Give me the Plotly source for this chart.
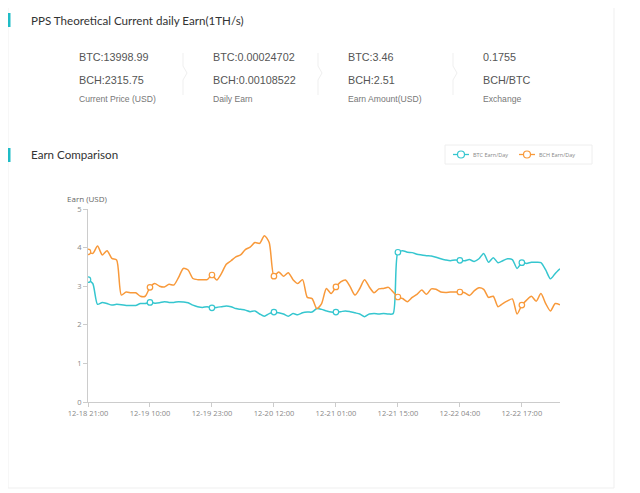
import plotly.graph_objects as go
import pandas as pd

# ---------------- data ----------------
hour_offsets = list(range(0, 60)) + list(range(61, 101))
categories = [(pd.Timestamp("2017-12-18 21:00") + pd.Timedelta(hours=h)).strftime("%m-%d %H:%M")
              for h in hour_offsets]

tick_labels = ["12-18 21:00", "12-19 10:00", "12-19 23:00", "12-20 12:00",
               "12-21 01:00", "12-21 15:00", "12-22 04:00", "12-22 17:00"]

btc_earn = [3.17, 3.07, 2.53, 2.58, 2.55, 2.51, 2.53, 2.52, 2.50, 2.50,
            2.50, 2.55, 2.55, 2.58, 2.56, 2.57, 2.60, 2.58, 2.58, 2.60,
            2.59, 2.57, 2.51, 2.47, 2.45, 2.47, 2.44, 2.45, 2.47, 2.49,
            2.47, 2.42, 2.40, 2.38, 2.34, 2.36, 2.28, 2.22, 2.29, 2.33,
            2.31, 2.28, 2.22, 2.29, 2.26, 2.31, 2.33, 2.33, 2.42, 2.40,
            2.36, 2.33, 2.33, 2.34, 2.36, 2.34, 2.31, 2.28, 2.21, 2.28,
            2.29, 2.28, 2.29, 2.28, 2.29, 3.88, 3.92, 3.88, 3.87, 3.83,
            3.81, 3.79, 3.78, 3.75, 3.71, 3.68, 3.66, 3.68, 3.67, 3.66,
            3.69, 3.64, 3.71, 3.85, 3.62, 3.74, 3.61, 3.66, 3.71, 3.69,
            3.46, 3.61, 3.59, 3.62, 3.62, 3.61, 3.42, 3.19, 3.33, 3.45]

bch_earn = [3.89, 3.85, 4.04, 3.81, 3.92, 3.72, 3.68, 2.77, 2.85, 2.83,
            2.83, 2.74, 2.74, 2.97, 3.07, 3.00, 2.98, 3.05, 3.03, 3.23,
            3.46, 3.42, 3.20, 3.17, 3.17, 3.17, 3.29, 3.16, 3.33, 3.57,
            3.66, 3.76, 3.81, 3.95, 4.01, 4.13, 4.11, 4.31, 4.13, 3.26,
            3.37, 3.26, 3.35, 3.17, 3.07, 3.17, 2.71, 2.68, 2.42, 2.55,
            2.94, 2.81, 2.98, 3.11, 3.16, 2.98, 2.77, 2.94, 3.17, 2.98,
            2.83, 2.93, 2.94, 2.97, 2.85, 2.72, 2.68, 2.60, 2.71, 2.79,
            2.90, 2.79, 2.93, 2.92, 2.85, 2.84, 2.85, 2.85, 2.85, 2.83,
            2.76, 2.88, 2.96, 2.92, 2.71, 2.74, 2.47, 2.55, 2.62, 2.67,
            2.28, 2.51, 2.64, 2.74, 2.61, 2.81, 2.55, 2.36, 2.55, 2.52]

stat_values_top = ["BTC:13998.99", "BTC:0.00024702", "BTC:3.46", "0.1755"]
stat_values_bottom = ["BCH:2315.75", "BCH:0.00108522", "BCH:2.51", "BCH/BTC"]
stat_captions = ["Current Price (USD)", "Daily Earn", "Earn Amount(USD)", "Exchange"]

series_names = ["BTC Earn/Day", "BCH Earn/Day"]
y_ticks = [0, 1, 2, 3, 4, 5]

# ---------------- layout helpers ----------------
# page body has an 8px margin, so the figure sits at (8, 8) in the window
OX, OY = 8, 8
W, H = 632, 485
PL, PR, PT, PB = 88, 560, 209, 402          # plot area in window pixels
L, R, T, B = PL - OX, PR - OX, PT - OY, PB - OY
TEAL = "#35c6cf"
ORANGE = "#f8993a"
ACCENT = "#1fbcc6"


def fx(px):
    return (px - PL) / (PR - PL)


def fy(py):
    return (PB - py) / (PB - PT)


fig = go.Figure()

marker_idx = [i for i, c in enumerate(categories) if c in tick_labels]

for name, vals, col in [(series_names[0], btc_earn, TEAL), (series_names[1], bch_earn, ORANGE)]:
    fig.add_trace(go.Scatter(
        x=categories, y=vals, mode="lines", name=name,
        line=dict(color=col, width=1.5, shape="spline", smoothing=0.7),
        showlegend=False, hoverinfo="x+y"))
    fig.add_trace(go.Scatter(
        x=[categories[i] for i in marker_idx], y=[vals[i] for i in marker_idx],
        mode="markers", name=name, showlegend=False,
        marker=dict(symbol="circle", size=5.5, color="white", line=dict(color=col, width=1.2)),
        hoverinfo="skip"))

shapes = []
annotations = []

# card border
shapes.append(dict(type="rect", xref="paper", yref="paper",
                   x0=fx(8), x1=fx(614), y0=fy(488), y1=fy(-5),
                   line=dict(color="#efefef", width=1), fillcolor="rgba(0,0,0,0)", layer="below"))

# section accent bars
for y0, y1 in [(13, 27), (148, 162)]:
    shapes.append(dict(type="rect", xref="paper", yref="paper",
                       x0=fx(7.5), x1=fx(10.5), y0=fy(y1), y1=fy(y0),
                       line=dict(width=0), fillcolor=ACCENT))

annotations.append(dict(text="PPS Theoretical Current daily Earn(1TH/s)", x=fx(29), y=fy(20),
                        xref="paper", yref="paper", xanchor="left", yanchor="middle", showarrow=False,
                        font=dict(family="Lato", size=11.6, color="#333333")))
annotations.append(dict(text="Earn Comparison", x=fx(29), y=fy(155),
                        xref="paper", yref="paper", xanchor="left", yanchor="middle", showarrow=False,
                        font=dict(family="Lato", size=11.6, color="#333333")))

# stats columns
col_x = [77, 211, 346, 481]
for cx, top, bot, cap in zip(col_x, stat_values_top, stat_values_bottom, stat_captions):
    annotations.append(dict(text=top, x=fx(cx), y=fy(57), xref="paper", yref="paper",
                            xanchor="left", yanchor="middle", showarrow=False,
                            font=dict(family="Liberation Sans", size=10.8, color="#555555")))
    annotations.append(dict(text=bot, x=fx(cx), y=fy(80), xref="paper", yref="paper",
                            xanchor="left", yanchor="middle", showarrow=False,
                            font=dict(family="Liberation Sans", size=10.8, color="#555555")))
    annotations.append(dict(text=cap, x=fx(cx), y=fy(99), xref="paper", yref="paper",
                            xanchor="left", yanchor="middle", showarrow=False,
                            font=dict(family="Liberation Sans", size=8.6, color="#777777")))

# chevron separators
for sx in [183, 318, 453]:
    path = (f"M {fx(sx)} {fy(53)} L {fx(sx)} {fy(66)} L {fx(sx + 4)} {fy(73)} "
            f"L {fx(sx)} {fy(80)} L {fx(sx)} {fy(95)}")
    shapes.append(dict(type="path", xref="paper", yref="paper", path=path,
                       line=dict(color="#efefef", width=1)))

# legend box
shapes.append(dict(type="rect", xref="paper", yref="paper",
                   x0=fx(445), x1=fx(592), y0=fy(164), y1=fy(145),
                   line=dict(color="#eeeeee", width=1), fillcolor="white"))
for cx, col, name in [(461, TEAL, series_names[0]), (527, ORANGE, series_names[1])]:
    shapes.append(dict(type="line", xref="paper", yref="paper",
                       x0=fx(cx - 8), x1=fx(cx + 8), y0=fy(154.5), y1=fy(154.5),
                       line=dict(color=col, width=1.3)))
    shapes.append(dict(type="circle", xref="paper", yref="paper",
                       x0=fx(cx - 3.5), x1=fx(cx + 3.5), y0=fy(158), y1=fy(151),
                       line=dict(color=col, width=1.2), fillcolor="white"))
    annotations.append(dict(text=name, x=fx(cx + 10), y=fy(155), xref="paper", yref="paper",
                            xanchor="left", yanchor="middle", showarrow=False,
                            font=dict(family="Open Sans", size=5.5, color="#888888")))

# y axis title
annotations.append(dict(text="Earn (USD)", x=fx(87), y=fy(198), xref="paper", yref="paper",
                        xanchor="center", yanchor="middle", showarrow=False,
                        font=dict(family="Open Sans", size=8, color="#666666")))

fig.update_layout(
    width=W, height=H,
    margin=dict(l=L, r=W - R, t=T, b=H - B, pad=0),
    paper_bgcolor="white", plot_bgcolor="white",
    shapes=shapes, annotations=annotations,
    showlegend=False,
    xaxis=dict(type="category", categoryorder="array", categoryarray=categories,
               range=[0, len(categories) - 1],
               tickmode="array", tickvals=tick_labels, ticktext=tick_labels,
               showgrid=False, zeroline=False, showline=True, linecolor="#cccccc", linewidth=1,
               ticks="outside", ticklen=4, tickcolor="#cccccc",
               tickfont=dict(family="Open Sans", size=7.5, color="#888888")),
    yaxis=dict(range=[0, 5], tickmode="array", tickvals=y_ticks,
               showgrid=False, zeroline=False, showline=True, linecolor="#cccccc", linewidth=1,
               ticks="outside", ticklen=4, tickcolor="#cccccc",
               tickfont=dict(family="Open Sans", size=7.5, color="#888888")),
)

fig.write_html("out.html")
